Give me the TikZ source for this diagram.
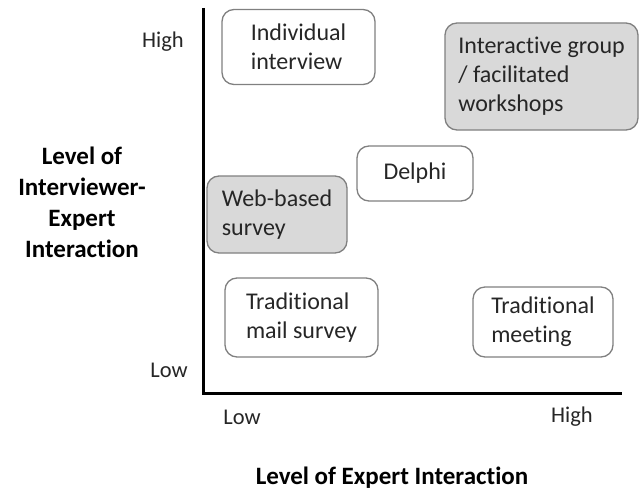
\documentclass[tikz,border=0pt]{standalone}
\usepackage{fontspec}
\setmainfont{Carlito}[Ligatures=NoCommon]
\begin{document}
\begin{tikzpicture}[x=1pt,y=-1pt,
  box/.style={draw=black!50, line width=1.3pt, rounded corners=12pt, inner sep=0pt, align=left, font=\fontsize{24}{29}\selectfont, text=black!85},
  graybox/.style={box, fill=black!15},
  axlabel/.style={font=\fontsize{22.5}{26}\selectfont, text=black!85, inner sep=0pt},
  title/.style={font=\bfseries\fontsize{25}{31}\selectfont, align=center, inner sep=0pt}]
\useasboundingbox (0,0) rectangle (642,495);
\coordinate (top) at (203,8);
\coordinate (origin) at (203,393);
\coordinate (right) at (622,393);
\draw[line width=3pt] (top) -- (origin) -- (right);
\node[box, minimum width=153pt, minimum height=75pt] (indiv) at (298.5,47) {Individual\\interview};
\node[graybox, minimum width=193pt, minimum height=107pt] (inter) at (541.5,76.5) {Interactive group\\/ facilitated\\workshops};
\node[box, minimum width=116pt, minimum height=55pt] (delphi) at (415,173.5) {Delphi};
\node[graybox, minimum width=140pt, minimum height=77pt] (web) at (277,214.5) {Web-based\\survey};
\node[box, minimum width=153pt, minimum height=79pt] (mail) at (301.5,317.5) {Traditional\\mail survey};
\node[box, minimum width=140pt, minimum height=70pt] (meet) at (543,322) {Traditional\\meeting};
\node[axlabel, anchor=east] (yhigh) at (184,42) {High};
\node[axlabel, anchor=east] (ylow) at (188,370) {Low};
\node[axlabel] (xlow) at (242,417) {Low};
\node[axlabel] (xhigh) at (572,417) {High};
\node[title] (ytitle) at (82,202) {Level of\\Interviewer-\\Expert\\Interaction};
\node[title] (xtitle) at (392,478) {Level of Expert Interaction};
\end{tikzpicture}
\end{document}
